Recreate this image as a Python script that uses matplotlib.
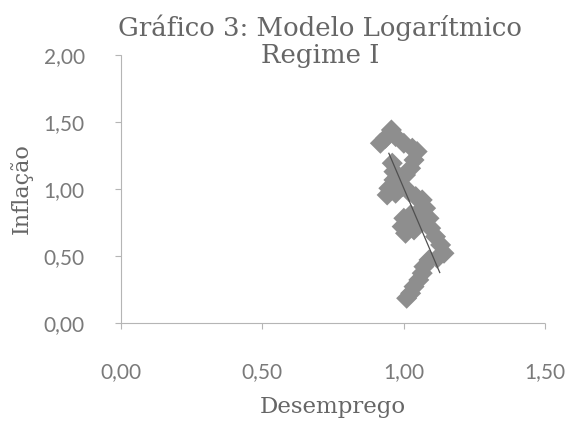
import matplotlib
matplotlib.use("Agg")
import matplotlib.pyplot as plt

# desemprego (x) e inflação (y)
desemprego = [0.957, 0.936, 0.918, 0.972, 1.001, 1.031, 1.048, 1.037, 1.025, 1.007,
              0.983, 0.966, 0.948, 0.942, 0.972, 0.995, 1.019, 1.043, 1.066, 1.078,
              1.054, 1.025, 1.001, 0.995, 1.007, 1.037, 1.060, 1.090, 1.096, 1.113,
              1.131, 1.143, 1.119, 1.090, 1.072, 1.066, 1.054, 1.037, 1.025, 1.011,
              0.960, 0.966]
inflacao = [1.440, 1.378, 1.341, 1.391, 1.341, 1.304, 1.279, 1.216, 1.154, 1.104,
            1.092, 1.067, 1.005, 0.955, 0.968, 1.017, 0.980, 0.943, 0.918, 0.856,
            0.831, 0.806, 0.781, 0.719, 0.669, 0.694, 0.756, 0.781, 0.707, 0.644,
            0.582, 0.520, 0.483, 0.470, 0.420, 0.371, 0.321, 0.271, 0.221, 0.184,
            1.192, 1.129]

# linha de tendência
trend_x = [0.948, 1.128]
trend_y = [1.266, 0.376]

xticks = [0.0, 0.5, 1.0, 1.5]
yticks = [0.0, 0.5, 1.0, 1.5, 2.0]

def fmt(v):
    return ("%.2f" % v).replace(".", ",")

fig = plt.figure(figsize=(5.7, 4.26), dpi=100)
ax = fig.add_axes([0.212, 0.242, 0.744, 0.629])

ax.scatter(desemprego, inflacao, marker="D", s=115, color="#8e8e8e",
           edgecolors="none", zorder=2)
ax.plot(trend_x, trend_y, color="#505050", lw=0.9, zorder=3)

ax.set_xlim(0, 1.5)
ax.set_ylim(0, 2.0)
ax.set_xticks(xticks)
ax.set_yticks(yticks)
ax.set_xticklabels([fmt(v) for v in xticks])
ax.set_yticklabels([fmt(v) for v in yticks])

for s in ["top", "right"]:
    ax.spines[s].set_visible(False)
for s in ["left", "bottom"]:
    ax.spines[s].set_color("#b5b5b5")
    ax.spines[s].set_linewidth(0.8)
    ax.spines[s].set_linestyle((0, (1, 1)))

ax.tick_params(axis="both", direction="out", length=4, width=0.8, color="#b5b5b5",
               labelcolor="#7a7a7a", labelsize=15)
ax.tick_params(axis="y", pad=22)
ax.tick_params(axis="x", pad=24)
for lab in ax.get_xticklabels() + ax.get_yticklabels():
    lab.set_family("Lato")

fig.text(0.562, 0.903, "Gráfico 3: Modelo Logarítmico\nRegime I", ha="center",
         va="center", fontsize=18.7, family="DejaVu Serif", color="#666666",
         linespacing=1.1)
ax.set_xlabel("Desemprego", fontsize=16.5, family="DejaVu Serif", color="#666666",
              labelpad=10)
ax.set_ylabel("Inflação", fontsize=16, family="DejaVu Serif", color="#666666",
              labelpad=8)

fig.savefig("out.png", dpi=100)
